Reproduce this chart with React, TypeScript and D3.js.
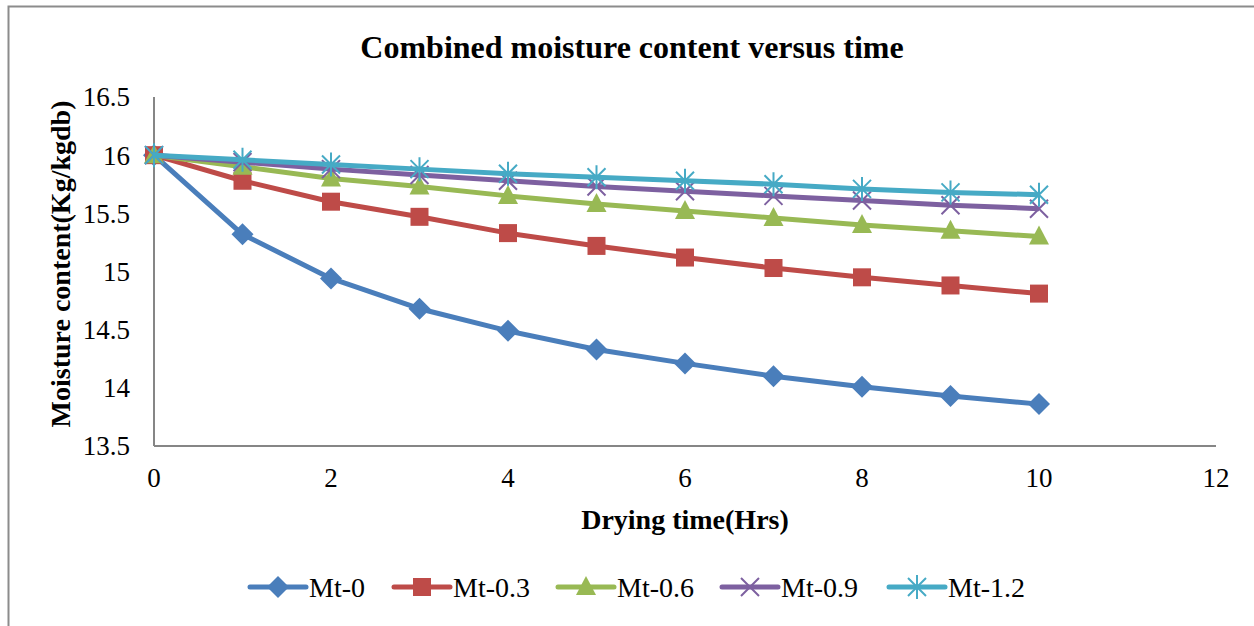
import React, { useEffect, useRef } from 'react';
import * as d3 from 'd3';

// drying time (hrs)
const hours = [0, 1, 2, 3, 4, 5, 6, 7, 8, 9, 10];

const mt0 = [16, 15.32, 14.94, 14.68, 14.49, 14.33, 14.21, 14.1, 14.01, 13.93, 13.86];
const mt03 = [16, 15.78, 15.6, 15.47, 15.33, 15.22, 15.12, 15.03, 14.95, 14.88, 14.81];
const mt06 = [16, 15.9, 15.8, 15.73, 15.65, 15.58, 15.52, 15.46, 15.4, 15.35, 15.3];
const mt09 = [16, 15.94, 15.88, 15.83, 15.78, 15.73, 15.69, 15.65, 15.61, 15.57, 15.54];
const mt12 = [16, 15.96, 15.92, 15.88, 15.84, 15.81, 15.78, 15.75, 15.71, 15.68, 15.66];

const seriesNames = ['Mt-0', 'Mt-0.3', 'Mt-0.6', 'Mt-0.9', 'Mt-1.2'];
const seriesValues = [mt0, mt03, mt06, mt09, mt12];
const seriesColors = ['#4a7ebb', '#be4b48', '#98b954', '#7d60a0', '#46aac5'];
const seriesMarkers = ['diamond', 'square', 'triangle', 'cross', 'star'];

const xTicks = [0, 2, 4, 6, 8, 10, 12];
const yTicks = [13.5, 14, 14.5, 15, 15.5, 16, 16.5];

const FONT = "'Liberation Serif'";

// draw a marker at (cx, cy)
function drawMarker(g, type, cx, cy, color) {
    if (type === 'diamond') {
        g.append('path')
            .attr('d', `M${cx},${cy - 11} L${cx + 11},${cy} L${cx},${cy + 11} L${cx - 11},${cy} Z`)
            .attr('fill', color);
    } else if (type === 'square') {
        g.append('rect')
            .attr('x', cx - 9).attr('y', cy - 9)
            .attr('width', 18).attr('height', 18)
            .attr('fill', color);
    } else if (type === 'triangle') {
        g.append('path')
            .attr('d', `M${cx},${cy - 11} L${cx + 10},${cy + 8} L${cx - 10},${cy + 8} Z`)
            .attr('fill', color);
    } else if (type === 'cross') {
        g.append('path')
            .attr('d', `M${cx - 9},${cy - 9} L${cx + 9},${cy + 9} M${cx - 9},${cy + 9} L${cx + 9},${cy - 9}`)
            .attr('stroke', color).attr('stroke-width', 2).attr('fill', 'none');
    } else {
        g.append('path')
            .attr('d', `M${cx - 9},${cy - 9} L${cx + 9},${cy + 9} M${cx - 9},${cy + 9} L${cx + 9},${cy - 9} M${cx},${cy - 12} L${cx},${cy + 12}`)
            .attr('stroke', color).attr('stroke-width', 2).attr('fill', 'none');
    }
}

const App = () => {
    const svgRef = useRef(null);

    useEffect(() => {
        const width = 1254;
        const height = 626;
        const margin = { top: 97, right: 38, bottom: 180, left: 154 };

        const svg = d3.select(svgRef.current)
            .attr('width', width)
            .attr('height', height)
            .style('font-family', FONT);

        svg.selectAll('*').remove();

        svg.append('rect')
            .attr('width', width).attr('height', height)
            .attr('fill', '#ffffff');

        // outer chart border (runs off the right / bottom edge)
        svg.append('rect')
            .attr('x', 8.5).attr('y', 6.5)
            .attr('width', 1300).attr('height', 700)
            .attr('fill', 'none')
            .attr('stroke', '#8c8c8c')
            .attr('stroke-width', 2);

        const x = d3.scaleLinear()
            .domain([0, 12])
            .range([margin.left, width - margin.right]);

        const y = d3.scaleLinear()
            .domain([13.5, 16.5])
            .range([height - margin.bottom, margin.top]);

        // axes
        svg.append('line')
            .attr('x1', x(0)).attr('x2', x(0))
            .attr('y1', y(16.5)).attr('y2', y(13.5))
            .attr('stroke', '#868686').attr('stroke-width', 2);
        svg.append('line')
            .attr('x1', x(0)).attr('x2', x(12))
            .attr('y1', y(13.5)).attr('y2', y(13.5))
            .attr('stroke', '#868686').attr('stroke-width', 2);

        svg.append('g').selectAll('text')
            .data(yTicks)
            .join('text')
            .attr('x', 130)
            .attr('y', d => y(d))
            .attr('dy', '0.35em')
            .attr('text-anchor', 'end')
            .style('font-size', '27px')
            .text(d => d3.format('~g')(d));

        svg.append('g').selectAll('text')
            .data(xTicks)
            .join('text')
            .attr('x', d => x(d))
            .attr('y', 478)
            .attr('dy', '0.35em')
            .attr('text-anchor', 'middle')
            .style('font-size', '27px')
            .text(d => d);

        // titles
        svg.append('text')
            .attr('x', 632).attr('y', 58)
            .attr('text-anchor', 'middle')
            .style('font-weight', 'bold')
            .style('font-size', '32px')
            .text('Combined moisture content versus time');

        svg.append('text')
            .attr('x', 685).attr('y', 529)
            .attr('text-anchor', 'middle')
            .style('font-weight', 'bold')
            .style('font-size', '28px')
            .text('Drying time(Hrs)');

        svg.append('text')
            .attr('transform', 'translate(70,264) rotate(-90)')
            .attr('text-anchor', 'middle')
            .style('font-weight', 'bold')
            .style('font-size', '28px')
            .text('Moisture content(Kg/kgdb)');

        // series
        const line = d3.line()
            .x((d, i) => x(hours[i]))
            .y(d => y(d));

        seriesValues.forEach((vals, si) => {
            const g = svg.append('g');
            g.append('path')
                .datum(vals)
                .attr('fill', 'none')
                .attr('stroke', seriesColors[si])
                .attr('stroke-width', 5)
                .attr('stroke-linejoin', 'round')
                .attr('d', line);
            vals.forEach((v, i) => {
                drawMarker(g, seriesMarkers[si], x(hours[i]), y(v), seriesColors[si]);
            });
        });

        // legend
        const legendX = [250, 394, 558, 722, 889];
        const ly = 587;
        seriesNames.forEach((name, si) => {
            const g = svg.append('g');
            const lx = legendX[si];
            g.append('line')
                .attr('x1', lx).attr('x2', lx + 56)
                .attr('y1', ly).attr('y2', ly)
                .attr('stroke', seriesColors[si])
                .attr('stroke-width', 5)
                .attr('stroke-linecap', 'round');
            drawMarker(g, seriesMarkers[si], lx + 28, ly, seriesColors[si]);
            g.append('text')
                .attr('x', lx + 59)
                .attr('y', ly)
                .attr('dy', '0.35em')
                .style('font-size', '28px')
                .text(name);
        });
    }, []);

    return (
        <svg
            ref={svgRef}
            style={{ position: 'absolute', left: 0, top: 0, display: 'block' }}
        ></svg>
    );
};

export default App;
